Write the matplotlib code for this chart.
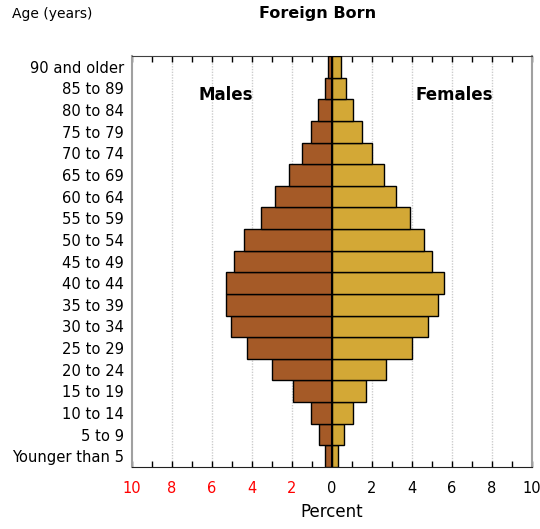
import matplotlib
matplotlib.use("Agg")
import matplotlib.pyplot as plt
import numpy as np

# Age groups, bottom to top
ages = ["Younger than 5", "5 to 9", "10 to 14", "15 to 19", "20 to 24",
        "25 to 29", "30 to 34", "35 to 39", "40 to 44", "45 to 49",
        "50 to 54", "55 to 59", "60 to 64", "65 to 69", "70 to 74",
        "75 to 79", "80 to 84", "85 to 89", "90 and older"]
males = [0.35, 0.63, 1.03, 1.93, 3.0, 4.23, 5.03, 5.32, 5.32, 4.92,
         4.38, 3.53, 2.87, 2.13, 1.48, 1.07, 0.68, 0.35, 0.18]
females = [0.32, 0.62, 1.07, 1.68, 2.68, 4.02, 4.82, 5.32, 5.58, 5.02,
           4.58, 3.92, 3.22, 2.62, 2.02, 1.52, 1.05, 0.72, 0.45]
xticks = [-10, -8, -6, -4, -2, 0, 2, 4, 6, 8, 10]
xticklabels = ["10", "8", "6", "4", "2", "0", "2", "4", "6", "8", "10"]

male_col = "#A55A27"
female_col = "#D3A836"

fig = plt.figure(figsize=(5.4, 5.29), dpi=100)
ax = fig.add_axes([0.2444, 0.1172, 0.7408, 0.7769])

y = np.arange(len(ages))
ax.barh(y, -np.array(males), height=1.0, color=male_col, edgecolor="black", linewidth=1, zorder=3)
ax.barh(y, females, height=1.0, color=female_col, edgecolor="black", linewidth=1, zorder=3)
ax.axvline(0, color="black", linewidth=1.5, zorder=4)

ax.set_xlim(-10, 10)
ax.set_ylim(-0.5, len(ages) - 0.5)
ax.set_yticks(y)
ax.set_yticklabels(ages, fontsize=10.6)
ax.tick_params(axis="y", length=0, pad=6)

ax.set_xticks(xticks)
ax.set_xticklabels(xticklabels, fontsize=10.5)
ax.set_xticks(np.arange(-10, 11, 1), minor=True)
ax.tick_params(axis="x", which="both", direction="in", length=4, width=1,
               top=True, bottom=True, pad=10)
for lbl, v in zip(ax.get_xticklabels(), xticks):
    lbl.set_color("red" if v < 0 else "black")

for v in xticks[1:-1]:
    if v != 0:
        ax.axvline(v, color="#cccccc", linestyle=(0, (1, 1)), linewidth=1, zorder=1)

for side in ["left", "right"]:
    ax.spines[side].set_color("#a0a0a0")
    ax.spines[side].set_linewidth(1.5)
ax.spines["top"].set_color("#404040")
ax.spines["bottom"].set_color("#202020")

ax.set_xlabel("Percent", fontsize=12, labelpad=5)
ax.text(-5.3, 16.7, "Males", fontsize=12, fontweight="bold", ha="center", va="center")
ax.text(6.1, 16.7, "Females", fontsize=12, fontweight="bold", ha="center", va="center")

fig.text(0.589, 0.975, "Foreign Born", fontsize=11.5, fontweight="bold", ha="center", va="center")
fig.text(0.022, 0.973, "Age (years)", fontsize=10, ha="left", va="center")

fig.savefig("out.png", dpi=100)
